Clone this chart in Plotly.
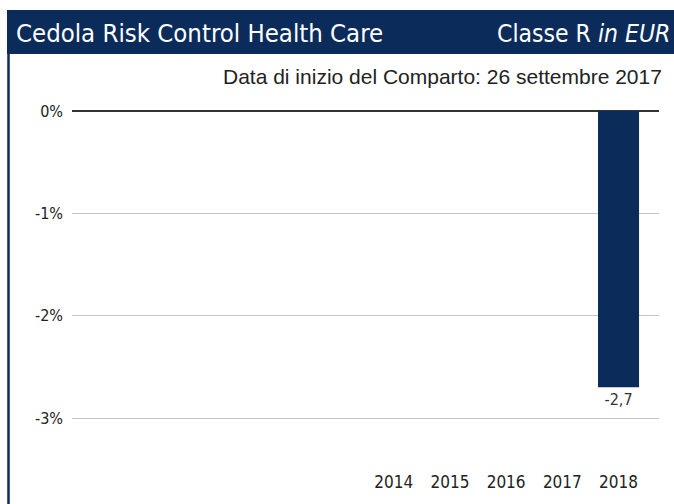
import plotly.graph_objects as go

years = [2014, 2015, 2016, 2017, 2018]
returns = [None, None, None, None, -2.7]
bar_labels = ["", "", "", "", "-2,7"]
y_ticks = [0, -1, -2, -3]
y_tick_labels = ["0%", "-1%", "-2%", "-3%"]

title_left = "Cedola Risk Control Health Care"
title_right = "Classe R <i>in EUR</i>"
subtitle = "Data di inizio del Comparto: 26 settembre 2017"

NAVY = "#0b2c5b"
COND = "DejaVu Sans Condensed, DejaVu Sans"
W, H = 674, 504
L, R, T, B = 72, 15, 100, 34
PW, PH = W - L - R, H - T - B


def px(x):
    return (x - L) / PW


def py(y):
    return (H - B - y) / PH


fig = go.Figure()
fig.add_trace(go.Bar(
    x=years, y=returns, width=0.73,
    marker=dict(color=NAVY, line=dict(width=0)),
    text=bar_labels, textposition="outside",
    textfont=dict(family=COND, size=16, color="#333333"),
    cliponaxis=False, hoverinfo="skip",
))

fig.update_layout(
    width=W, height=H,
    margin=dict(l=L, r=R, t=T, b=B),
    paper_bgcolor="white", plot_bgcolor="white",
    showlegend=False,
    xaxis=dict(
        range=[2008.276, 2018.72],
        tickvals=years, ticktext=[str(y) for y in years],
        showgrid=False, zeroline=False, showline=False, ticks="",
        tickfont=dict(family=COND, size=17, color="#222222"),
    ),
    yaxis=dict(
        range=[-3.508, 0.1075],
        tickvals=y_ticks, ticktext=y_tick_labels,
        showgrid=True, gridcolor="#c4c4c4", gridwidth=1,
        zeroline=True, zerolinecolor="#333333", zerolinewidth=1.5,
        showline=False, ticks="", ticklabelstandoff=8,
        tickfont=dict(family=COND, size=16, color="#222222"),
    ),
    shapes=[
        dict(type="rect", xref="paper", yref="paper",
             x0=px(7), x1=px(676), y0=py(54), y1=py(10),
             fillcolor=NAVY, line=dict(width=0), layer="above"),
        dict(type="line", xref="paper", yref="paper",
             x0=px(8.5), x1=px(8.5), y0=py(54), y1=py(506),
             line=dict(color=NAVY, width=2.5)),
    ],
    annotations=[
        dict(text=title_left, xref="paper", yref="paper", x=px(14), y=py(33),
             xanchor="left", yanchor="middle", showarrow=False,
             font=dict(family=COND, size=25.5, color="white")),
        dict(text=title_right, xref="paper", yref="paper", x=px(672), y=py(33),
             xanchor="right", yanchor="middle", showarrow=False,
             font=dict(family=COND, size=24.5, color="white")),
        dict(text=subtitle, xref="paper", yref="paper", x=px(664), y=py(76),
             xanchor="right", yanchor="middle", showarrow=False,
             font=dict(family="Liberation Sans, Arial", size=21, color="#222222")),
    ],
)

fig.write_html("out.html", config={"displayModeBar": False},
               post_script="document.body.style.margin='0';")
